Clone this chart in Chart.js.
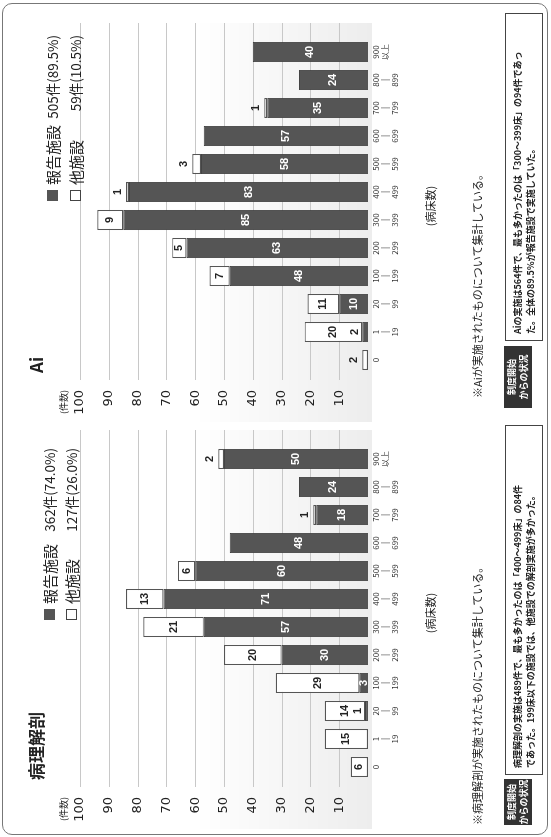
<!DOCTYPE html>
<html>
<head>
<meta charset="utf-8">
<script src="https://cdn.jsdelivr.net/npm/chart.js@4/dist/chart.umd.min.js"></script>
<style>
  html, body { margin: 0; padding: 0; background: #fff; overflow: hidden; }
  /* the sheet is laid out upright (837 x 551) and turned a quarter left */
  #page {
    position: absolute; left: 0; top: 0; width: 837px; height: 551px;
    transform-origin: 0 0; transform: translateY(837px) rotate(-90deg);
    font-family: "Noto Sans CJK JP", sans-serif; color: #222;
  }
  .frame { position: absolute; left: 2px; top: 2px; width: 830px; height: 544px; border: 1.5px solid #777; border-radius: 10px; }
  canvas { position: absolute; top: 0; }
  .abs { position: absolute; white-space: nowrap; line-height: 1; }
  .title { font-size: 17px; font-weight: bold; }
  .unit { font-size: 9px; }
  .leg { font-size: 15px; }
  .num { font-size: 13.5px; text-align: right; }
  .mark { position: absolute; width: 11px; height: 11px; box-sizing: border-box; }
  .note { font-size: 11px; }
  .tag { background: #333; color: #fff; font-size: 9px; font-weight: bold; line-height: 12px; text-align: center; padding-top: 2px; box-sizing: border-box; }
  .box { border: 1.5px solid #444; font-size: 9px; font-weight: bold; line-height: 13px; padding: 5px 0 0 6px; box-sizing: border-box; }
</style>
</head>
<body>
<div id="page">
  <div class="frame"></div>

  <canvas id="autopsy" width="418" height="551" style="left:0"></canvas>
  <canvas id="ai" width="418" height="551" style="left:407px"></canvas>

  <!-- 病理解剖 -->
  <div class="abs title" style="left:57px;top:27px">病理解剖</div>
  <div class="abs unit" style="left:16px;top:59px">(件数)</div>
  <div class="mark" style="left:217px;top:44px;background:#555"></div>
  <div class="abs leg" style="left:233px;top:42px">報告施設</div>
  <div class="abs num" style="left:289px;width:100px;top:43px">362件(74.0%)</div>
  <div class="mark" style="left:217px;top:66px;border:1.3px solid #444;background:#fff"></div>
  <div class="abs leg" style="left:233px;top:64px">他施設</div>
  <div class="abs num" style="left:289px;width:100px;top:65px">127件(26.0%)</div>
  <div class="abs note" style="left:12px;top:472px">※病理解剖が実施されたものについて集計している。</div>
  <div class="abs tag" style="left:12px;top:504px;width:46px;height:28px">制度開始<br>からの状況</div>
  <div class="abs box" style="left:62px;top:505px;width:350px;height:38px">病理解剖の実施は489件で、最も多かったのは「400〜499床」の84件<br>であった。199床以下の施設では、他施設での解剖実施が多かった。</div>

  <!-- Ai -->
  <div class="abs title" style="left:464px;top:27px">Ai</div>
  <div class="abs unit" style="left:423px;top:59px">(件数)</div>
  <div class="mark" style="left:636px;top:47px;background:#555"></div>
  <div class="abs leg" style="left:652px;top:45px">報告施設</div>
  <div class="abs num" style="left:702px;width:100px;top:46px">505件(89.5%)</div>
  <div class="mark" style="left:636px;top:70px;border:1.3px solid #444;background:#fff"></div>
  <div class="abs leg" style="left:652px;top:68px">他施設</div>
  <div class="abs num" style="left:702px;width:100px;top:69px">59件(10.5%)</div>
  <div class="abs note" style="left:439px;top:472px">※Aiが実施されたものについて集計している。</div>
  <div class="abs tag" style="left:429px;top:504px;width:62px;height:28px">制度開始<br>からの状況</div>
  <div class="abs box" style="left:496px;top:505px;width:328px;height:38px">Aiの実施は564件で、最も多かったのは「300〜399床」の94件であっ<br>た。全体の89.5％が報告施設で実施していた。</div>
</div>

<script>
// 病床数の区分
const bedRanges = [
  ['0'], ['1', '|', '19'], ['20', '|', '99'], ['100', '|', '199'],
  ['200', '|', '299'], ['300', '|', '399'], ['400', '|', '499'], ['500', '|', '599'],
  ['600', '|', '699'], ['700', '|', '799'], ['800', '|', '899'], ['900', '以上']
];

// 病理解剖 件数
const autopsyReported = [0, 0, 1, 3, 30, 57, 71, 60, 48, 18, 24, 50];
const autopsyOther = [6, 15, 14, 29, 20, 21, 13, 6, 0, 1, 0, 2];

// Ai 件数
const aiReported = [0, 2, 10, 48, 63, 85, 83, 58, 57, 35, 24, 40];
const aiOther = [2, 20, 11, 7, 5, 9, 1, 3, 0, 1, 0, 0];

const countTicks = [10, 20, 30, 40, 50, 60, 70, 80, 90, 100];

Chart.defaults.font.family = '"Noto Sans CJK JP", sans-serif';
Chart.defaults.color = '#222';

// light print tint and horizontal rules, a bit wider than the bars
const gridLines = {
  id: 'gridLines',
  beforeDatasetsDraw(chart) {
    const { ctx, chartArea, scales } = chart;
    ctx.save();
    const top = scales.y.getPixelForValue(60);
    const bottom = scales.y.getPixelForValue(0) + 4;
    const shade = ctx.createLinearGradient(0, top, 0, bottom);
    shade.addColorStop(0, 'rgba(0,0,0,0)');
    shade.addColorStop(1, 'rgba(0,0,0,0.07)');
    ctx.fillStyle = shade;
    ctx.fillRect(chartArea.left - 48, top, chartArea.width + 63, bottom - top);

    ctx.strokeStyle = '#c8c8c8';
    ctx.lineWidth = 1;
    countTicks.forEach(v => {
      const py = Math.round(scales.y.getPixelForValue(v)) + 0.5;
      ctx.beginPath();
      ctx.moveTo(chartArea.left - 6, py);
      ctx.lineTo(chartArea.right + 15, py);
      ctx.stroke();
    });
    ctx.restore();
  }
};

// numbers written on (or just above) each segment
const segmentValues = {
  id: 'segmentValues',
  afterDatasetsDraw(chart) {
    const ctx = chart.ctx;
    ctx.save();
    ctx.font = 'bold 11px "Liberation Sans", sans-serif';
    ctx.textAlign = 'center';
    ctx.textBaseline = 'middle';
    chart.data.datasets.forEach((ds, di) => {
      chart.getDatasetMeta(di).data.forEach((bar, i) => {
        const v = ds.data[i];
        if (!v) return;
        const h = bar.base - bar.y;
        let ty = (bar.y + bar.base) / 2;
        let color = di === 0 ? '#fff' : '#222';
        if (di === 0 && h < 8) {
          ty = bar.y - 7;
          color = '#222';
        } else if (di === 1 && h < 10) {
          ty = bar.y - 8;
        }
        ctx.fillStyle = color;
        ctx.fillText(v, bar.x, ty);
      });
    });
    ctx.restore();
  }
};

function drawChart(id, reported, other) {
  return new Chart(document.getElementById(id), {
    type: 'bar',
    data: {
      labels: bedRanges,
      datasets: [
        {
          label: '報告施設',
          data: reported,
          backgroundColor: '#555',
          borderColor: '#444',
          borderWidth: 1,
          barPercentage: 0.72,
          categoryPercentage: 1
        },
        {
          label: '他施設',
          data: other,
          backgroundColor: '#fff',
          borderColor: '#555',
          borderWidth: 1.2,
          borderSkipped: false,
          barPercentage: 0.72,
          categoryPercentage: 1
        }
      ]
    },
    options: {
      responsive: false,
      animation: false,
      layout: { padding: { left: 10, right: 26, top: 80, bottom: 108 } },
      plugins: { legend: { display: false }, tooltip: { enabled: false } },
      scales: {
        x: {
          stacked: true,
          grid: { display: false, drawTicks: false },
          border: { display: false },
          ticks: { font: { size: 8 }, color: '#333', padding: 3, maxRotation: 0, autoSkip: false },
          title: { display: true, text: '(病床数)', font: { size: 11 }, padding: { top: 0, bottom: 6 } },
          afterFit: scale => { scale.height = 75; }
        },
        y: {
          stacked: true,
          min: 0,
          max: 100,
          grid: { display: false, drawTicks: false },
          border: { display: false },
          ticks: {
            stepSize: 10,
            padding: 16,
            font: { size: 13, family: '"DejaVu Sans", sans-serif' },
            callback: v => (v === 0 ? '' : v)
          },
          afterFit: scale => { scale.width = 46; }
        }
      }
    },
    plugins: [gridLines, segmentValues]
  });
}

drawChart('autopsy', autopsyReported, autopsyOther);
drawChart('ai', aiReported, aiOther);
</script>
</body>
</html>
